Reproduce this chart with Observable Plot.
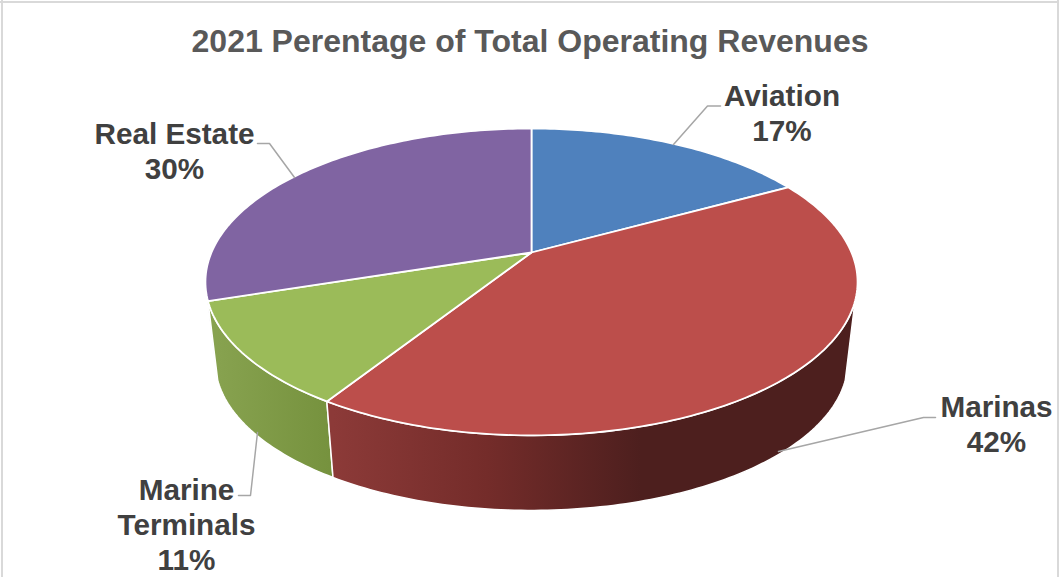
<!DOCTYPE html>
<html>
<head>
<meta charset="utf-8">
<script src="https://cdn.jsdelivr.net/npm/d3@7"></script>
<script src="https://cdn.jsdelivr.net/npm/@observablehq/plot@0.6"></script>
<style>
  html, body { margin: 0; padding: 0; background: #fff; overflow: hidden; }
  svg { display: block; }
</style>
</head>
<body>
<div id="chart"></div>
<script>
// Share of 2021 operating revenue by business line
const segments = ["Aviation", "Marinas", "Marine Terminals", "Real Estate"];
const shares = [17, 42, 11, 30];
const labelLines = ["Aviation", "Marinas", "Marine\nTerminals", "Real Estate"];
const topColors = ["#4f81bd", "#bc4e4b", "#9bbb59", "#8064a2"];

// Label placement on the page, in segment order
const labelX = [781.5, 996, 186, 174];
const labelY = [111.5, 422.5, 523.5, 149.5];

// Leader lines from each label to its slice
const leaders = [
  [[720, 105.5], [707, 105.5], [673, 144]],
  [[935, 417], [923, 417], [778, 451]],
  [[238, 495], [250, 495], [257, 432]],
  [[257, 143], [269, 143], [294, 177]]
];

// Perspective view of the disc: the near edge is drawn larger than the far edge
const view = {cx: 531, apexY: 252, a: 320, b: 147.8, k: 0.192};
const depth = {apexY: 332.5, scale: 0.97};

function onDisc(deg, apexY = view.apexY, scale = 1) {
  const t = deg * Math.PI / 180;
  const u = Math.sin(t), v = -Math.cos(t), w = 1 - view.k * v;
  return {x: view.cx + scale * view.a * u / w, y: apexY + scale * view.b * v / w};
}

const arc = (from, to) => {
  const n = Math.max(2, Math.ceil(Math.abs(to - from)));
  return d3.range(n + 1).map(i => from + (to - from) * i / n);
};

// Slice boundaries in degrees, clockwise from twelve o'clock
const edges = [0, ...d3.cumsum(shares).map(s => s * 3.6)];

const topFaces = segments.flatMap((name, i) => [
  {name, ...onDisc(0, view.apexY, 0)},
  ...arc(edges[i], edges[i + 1]).map(d => ({name, ...onDisc(d)}))
]);

// The visible side wall runs between the two silhouette angles
const wallFrom = 108, wallTo = 253.6;
const wall = (from, to) => [
  ...arc(from, to).map(d => onDisc(d)),
  ...arc(to, from).map(d => onDisc(d, depth.apexY, depth.scale))
];

const gradient = (id, x1, x2, stops) => (index, {x}) => {
  const defs = d3.create("svg:defs");
  const g = defs.append("linearGradient")
    .attr("id", id).attr("gradientUnits", "userSpaceOnUse")
    .attr("x1", x(x1)).attr("x2", x(x2)).attr("y1", 0).attr("y2", 0);
  stops.forEach(([offset, color]) => g.append("stop").attr("offset", offset).attr("stop-color", color));
  return defs.node();
};

const labels = segments.map((name, i) => ({
  text: `${labelLines[i]}\n${shares[i]}%`, x: labelX[i], y: labelY[i]
}));
const leaderPoints = leaders.flatMap((pts, id) => pts.map(([x, y]) => ({id, x, y})));

const wallStyle = {x: "x", y: "y", curve: "linear-closed", stroke: "#fff", strokeWidth: 1.5, strokeLinejoin: "round"};

const chart = Plot.plot({
  width: 1059,
  height: 577,
  margin: 0,
  style: {background: "#fff"},
  x: {domain: [0, 1059], range: [0, 1059], axis: null},
  y: {domain: [0, 577], range: [0, 577], axis: null},
  color: {domain: segments, range: topColors},
  marks: [
    gradient("wall-marinas", 333, 640, [[0, "#8c3a38"], [0.5, "#742c2a"], [1, "#4d1f1e"]]),
    gradient("wall-terminals", 216, 336, [[0, "#87a24f"], [1, "#75913d"]]),

    // Chart frame
    Plot.ruleY([1.5], {stroke: "#d9d9d9", strokeWidth: 2}),
    Plot.ruleX([1.5], {stroke: "#d9d9d9", strokeWidth: 2}),
    Plot.ruleX([1057.5], {stroke: "#d9d9d9", strokeWidth: 2}),

    // Side walls, farthest first
    Plot.line(wall(edges[3], wallTo), {...wallStyle, fill: "#8064a2", strokeWidth: 1}),
    Plot.line(wall(edges[2], edges[3]), {...wallStyle, fill: "url(#wall-terminals)"}),
    Plot.line(wall(wallFrom, edges[2]), {...wallStyle, fill: "url(#wall-marinas)"}),

    // Top of the disc
    Plot.line(topFaces, {
      x: "x", y: "y", z: "name", fill: "name", curve: "linear-closed",
      stroke: "#fff", strokeWidth: 1.8, strokeLinejoin: "round"
    }),

    // Leaders and labels
    Plot.line(leaderPoints, {x: "x", y: "y", z: "id", stroke: "#a6a6a6", strokeWidth: 1.5}),
    Plot.text(labels, {
      x: "x", y: "y", text: "text", fill: "#404040", fontSize: 29.7, fontWeight: 700,
      fontFamily: "Liberation Sans", lineHeight: 1.18, lineAnchor: "middle", textAnchor: "middle"
    }),
    Plot.text(["2021 Perentage of Total Operating Revenues"], {
      x: () => 529.5, y: () => 41, text: d => d, fill: "#595959", fontSize: 32, fontWeight: 700,
      fontFamily: "Liberation Sans", lineAnchor: "middle", textAnchor: "middle"
    })
  ]
});

document.getElementById("chart").append(chart);
</script>
</body>
</html>
